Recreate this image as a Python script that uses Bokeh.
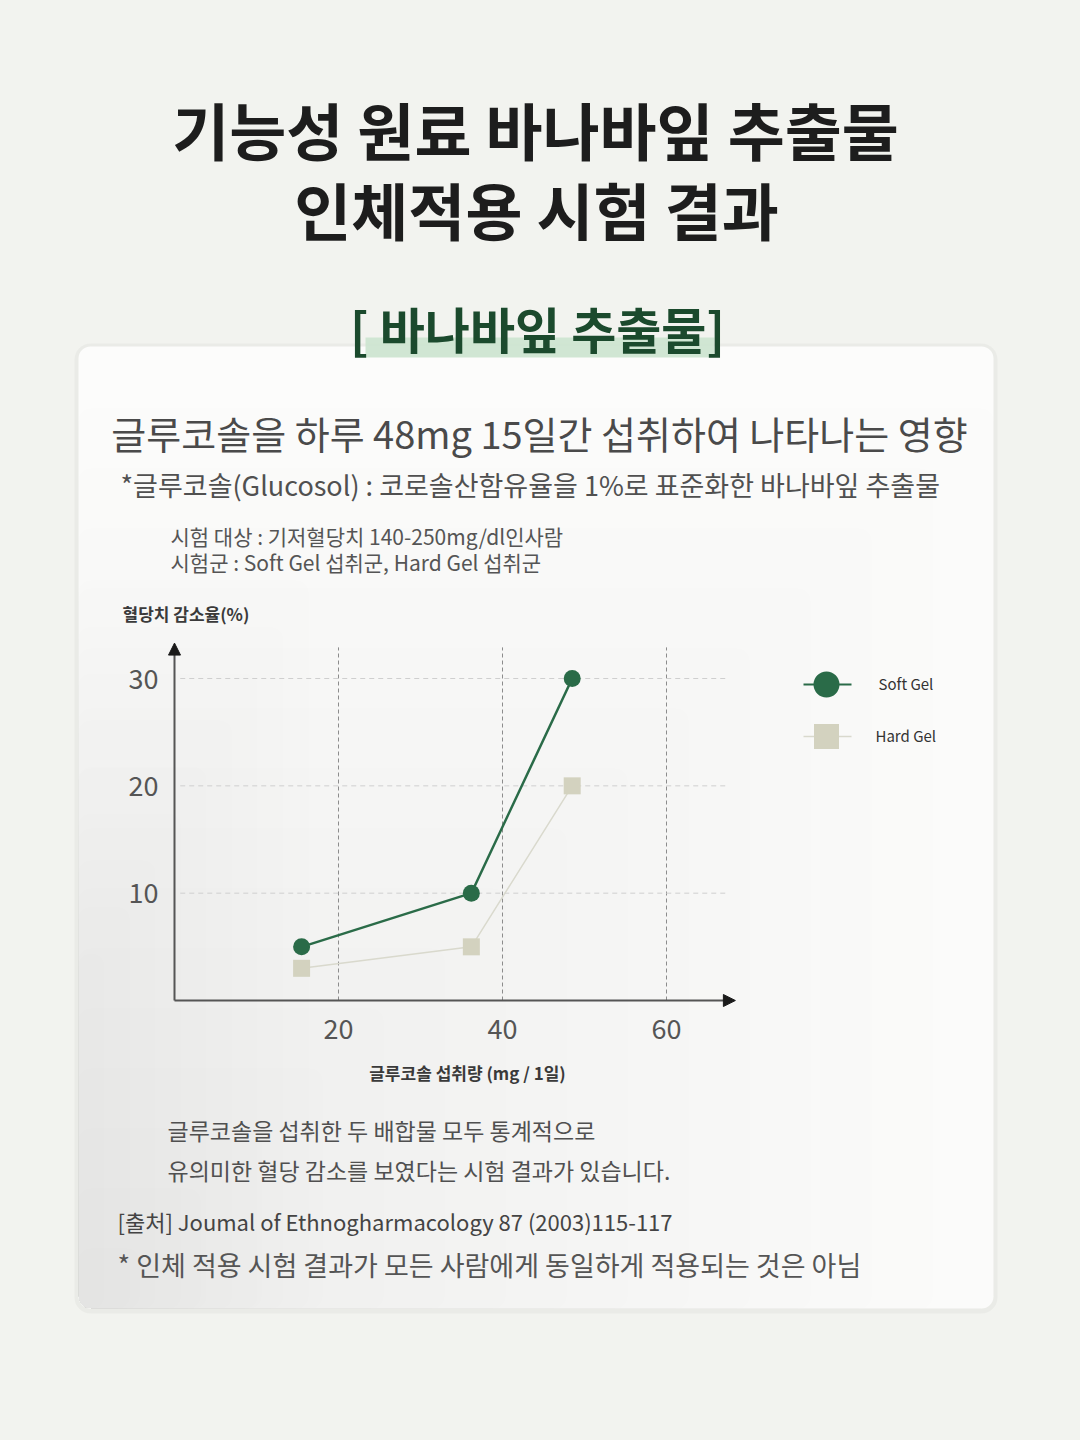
from bokeh.plotting import figure
from bokeh.models import (Range1d, LinearAxis, FixedTicker, Label, BoxAnnotation,
                          Arrow, NormalHead)
from bokeh.embed import file_html
from bokeh.resources import INLINE

# ---------------- data ----------------
series_names = ["Soft Gel", "Hard Gel"]
dose_soft = [15.5, 36.2, 48.5]          # mg / day
reduction_soft = [5, 10, 30]            # % decrease in blood glucose
dose_hard = [15.5, 36.2, 48.5]
reduction_hard = [3, 5, 20]
x_ticks = [20, 40, 60]
y_ticks = [10, 20, 30]

# ---------------- styles ----------------
FONT = "Noto Sans CJK KR"
W, H = 1064, 1424
BG = "#f2f3ef"
SOFT_C = "#2a6b48"
HARD_C = "#d3d2bf"
HARD_LINE = "#d9d9cd"

# chart placement on page (page pixel of value 0 and pixels per unit)
X0, XPPU = 174.0, 8.2
Y0, YPPU = 1000.0, 10.733
X_MAX, Y_MAX = 68.4, 33.3


def xr(px):
    return (px - X0) / XPPU


def yr(py):
    return (Y0 - py) / YPPU


p = figure(width=W, height=H,
           x_range=Range1d(xr(0), xr(W)), y_range=Range1d(yr(H), yr(0)),
           x_axis_type=None, y_axis_type=None, toolbar_location=None,
           output_backend="svg", min_border=0, border_fill_color=BG,
           background_fill_color=BG, outline_line_color=None)
p.extra_x_ranges = {"page": Range1d(0, W)}
p.extra_y_ranges = {"page": Range1d(H, 0)}

PG = dict(x_range_name="page", y_range_name="page")

# ---------------- card ----------------
p.add_layout(BoxAnnotation(left=74, right=997, top=343, bottom=1313, fill_color="#000000",
                           fill_alpha=0.03, line_color=None, border_radius=16,
                           level="underlay", **PG))
p.add_layout(BoxAnnotation(left=78, right=993, top=346, bottom=1308, fill_color="#fcfcfb",
                           fill_alpha=1.0, line_color=None, border_radius=12,
                           level="underlay", **PG))
n_shade = 15
for i in range(n_shade):
    f = 1.0 - i / n_shade
    p.add_layout(BoxAnnotation(left=78, right=78 + 915 * f, top=1308 - 900 * f, bottom=1308,
                               fill_color="#7a7a7a", fill_alpha=0.008, line_color=None,
                               border_radius=12, level="underlay", **PG))
n_left = 9
for i in range(n_left):
    f = 1.0 - i / n_left
    p.add_layout(BoxAnnotation(left=78, right=78 + 230 * f, top=1000 - 420 * f, bottom=1308,
                               fill_color="#7a7a7a", fill_alpha=0.008, line_color=None,
                               border_radius=12, level="underlay", **PG))

# highlight under section title
p.add_layout(BoxAnnotation(left=365, right=714, top=337, bottom=357, fill_color="#cde5d1",
                           fill_alpha=0.95, line_color=None, level="underlay", **PG))


def label(x, y, text, size, color="#444444", align="left", style="normal"):
    p.add_layout(Label(x=x, y=y - 0.07 * size, text=text, text_font=FONT,
                       text_font_size=f"{size}px", text_color=color, text_align=align,
                       text_baseline="middle", text_font_style=style, **PG))


label(535, 133, "기능성 원료 바나바잎 추출물", 62, "#1d1d1d", "center", "bold")
label(536, 213, "인체적용 시험 결과", 62, "#1d1d1d", "center", "bold")
label(537, 330, "[ 바나바잎 추출물]", 49, "#1b4a2d", "center", "bold")
label(539, 435, "글루코솔을 하루 48mg 15일간 섭취하여 나타나는 영향", 38, "#4a4a4a", "center")
label(120, 486, "*글루코솔(Glucosol) : 코로솔산함유율을 1%로 표준화한 바나바잎 추출물", 27, "#505050")
label(170, 537, "시험 대상 : 기저혈당치 140-250mg/dl인사람", 21, "#555555")
label(170, 563, "시험군 : Soft Gel 섭취군, Hard Gel 섭취군", 21, "#555555")
label(122, 614, "혈당치 감소율(%)", 17, "#3a3a3a", "left", "bold")
label(467, 1073, "글루코솔 섭취량 (mg / 1일)", 17, "#3a3a3a", "center", "bold")
label(167, 1131, "글루코솔을 섭취한 두 배합물 모두 통계적으로", 23, "#505050")
label(167, 1171, "유의미한 혈당 감소를 보였다는 시험 결과가 있습니다.", 23, "#505050")
label(117, 1222, "[출처] Joumal of Ethnogharmacology 87 (2003)115-117", 22, "#444444")
label(117, 1266, "* 인체 적용 시험 결과가 모든 사람에게 동일하게 적용되는 것은 아님", 27, "#555555")

# ---------------- grid ----------------
p.segment(x0=x_ticks, y0=[0] * len(x_ticks), x1=x_ticks, y1=[32.9] * len(x_ticks),
          line_color="#8c8c8c", line_dash="4 3", line_width=1)
p.segment(x0=[0.7] * len(y_ticks), y0=y_ticks, x1=[67.2] * len(y_ticks), y1=y_ticks,
          line_color="#cfcfcf", line_dash="5 4", line_width=1)

# ---------------- axes ----------------
common = dict(axis_line_color="#555555", axis_line_width=2, major_tick_line_color=None,
              minor_tick_line_color=None, major_label_text_font=FONT,
              major_label_text_font_size="27px", major_label_text_color="#555555")
xaxis = LinearAxis(ticker=FixedTicker(ticks=x_ticks), fixed_location=0,
                   bounds=(0, X_MAX - 0.6), major_label_standoff=12, **common)
yaxis = LinearAxis(ticker=FixedTicker(ticks=y_ticks), fixed_location=0,
                   bounds=(0, Y_MAX - 0.6), major_label_standoff=10, **common)
p.add_layout(xaxis, "below")
p.add_layout(yaxis, "left")
p.add_layout(Arrow(end=NormalHead(size=12, fill_color="#1a1a1a", line_color="#1a1a1a"),
                   x_start=X_MAX - 1, y_start=0, x_end=X_MAX, y_end=0, line_alpha=0))
p.add_layout(Arrow(end=NormalHead(size=12, fill_color="#1a1a1a", line_color="#1a1a1a"),
                   x_start=0, y_start=Y_MAX - 1, x_end=0, y_end=Y_MAX, line_alpha=0))

# ---------------- data series ----------------
p.line(dose_hard, reduction_hard, line_color=HARD_LINE, line_width=1.5)
p.scatter(dose_hard, reduction_hard, marker="square", size=17, fill_color=HARD_C,
          line_color=None)
p.line(dose_soft, reduction_soft, line_color=SOFT_C, line_width=2.5)
p.scatter(dose_soft, reduction_soft, marker="circle", size=17, fill_color=SOFT_C,
          line_color=None)

# ---------------- legend ----------------
p.segment(x0=[803], y0=[684], x1=[851], y1=[684], line_color=SOFT_C, line_width=2, **PG)
p.scatter([826], [684], marker="circle", size=26, fill_color=SOFT_C, line_color=None, **PG)
p.segment(x0=[803], y0=[736], x1=[851], y1=[736], line_color=HARD_LINE, line_width=1.5, **PG)
p.scatter([826], [736], marker="square", size=25, fill_color=HARD_C, line_color=None, **PG)
label(878, 684, series_names[0], 15, "#333333")
label(875, 736, series_names[1], 15, "#333333")

html = file_html(p, INLINE)
html = html.replace("</head>", "<style>body{background:%s;}</style></head>" % BG, 1)
open("out.html", "w").write(html)
